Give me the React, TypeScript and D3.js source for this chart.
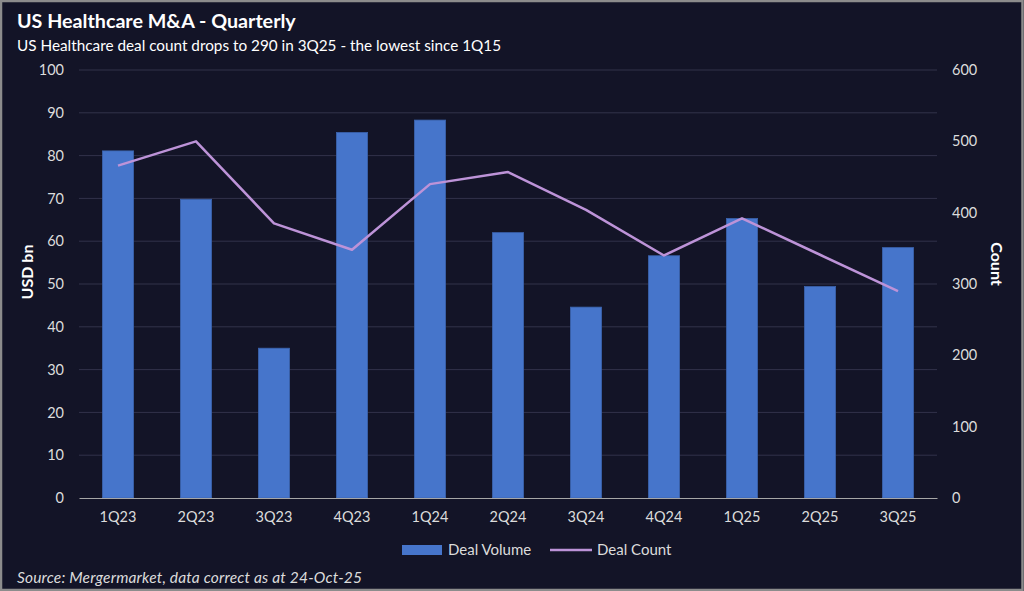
import React, { useEffect, useRef } from "react";
import * as d3 from "d3";

const quarters = ["1Q23", "2Q23", "3Q23", "4Q23", "1Q24", "2Q24", "3Q24", "4Q24", "1Q25", "2Q25", "3Q25"];
const dealVolume = [81.1, 69.8, 35.0, 85.4, 88.3, 62.0, 44.6, 56.6, 65.3, 49.4, 58.5];
const dealCount = [466, 500, 385, 348, 440, 457, 404, 340, 392, 341, 290];
const leftTicks = [0, 10, 20, 30, 40, 50, 60, 70, 80, 90, 100];
const rightTicks = [0, 100, 200, 300, 400, 500, 600];

const W = 1024;
const H = 591;
const margin = { top: 70, right: 87, bottom: 93, left: 79 };
const FONT = "Lato, 'Noto Sans', sans-serif";
const BG = "#131427";
const TEXT = "#dcdcdc";

export default function App() {
    const ref = useRef<SVGSVGElement>(null);

    useEffect(() => {
        document.body.style.margin = "0";
        const svg = d3.select(ref.current);
        svg.selectAll("*").remove();

        const width = W - margin.left - margin.right;
        const height = H - margin.top - margin.bottom;

        svg.append("rect").attr("width", W).attr("height", H).attr("fill", BG);
        svg.append("rect")
            .attr("x", 1).attr("y", 1).attr("width", W - 2.5).attr("height", H - 2)
            .attr("fill", "none").attr("stroke", "#8c8c8c").attr("stroke-width", 2.5);

        const x = d3.scaleBand<string>().domain(quarters).range([0, width]).paddingInner(0.6).paddingOuter(0.3);
        const yL = d3.scaleLinear().domain([0, 100]).range([height, 0]);
        const yR = d3.scaleLinear().domain([0, 600]).range([height, 0]);

        const g = svg.append("g").attr("transform", "translate(" + margin.left + "," + margin.top + ")");

        // gridlines
        g.append("g")
            .selectAll("line")
            .data(leftTicks.slice(1))
            .join("line")
            .attr("x1", 0).attr("x2", width)
            .attr("y1", (d) => yL(d)).attr("y2", (d) => yL(d))
            .attr("stroke", "#32324a").attr("stroke-width", 1);

        // left axis
        const leftAxis = g.append("g")
            .call(d3.axisLeft(yL).tickValues(leftTicks).tickSize(0).tickPadding(15));
        leftAxis.select(".domain").remove();
        leftAxis.selectAll("text")
            .attr("fill", TEXT).attr("font-family", FONT).attr("font-size", 14.5);

        // right axis
        const rightAxis = g.append("g")
            .attr("transform", "translate(" + width + ",0)")
            .call(d3.axisRight(yR).tickValues(rightTicks).tickSize(0).tickPadding(15));
        rightAxis.select(".domain").remove();
        rightAxis.selectAll("text")
            .attr("fill", TEXT).attr("font-family", FONT).attr("font-size", 14.5);

        // bars
        g.append("g")
            .selectAll("rect")
            .data(dealVolume)
            .join("rect")
            .attr("x", (d, i) => x(quarters[i]) as number)
            .attr("y", (d) => yL(d))
            .attr("width", x.bandwidth())
            .attr("height", (d) => height - yL(d))
            .attr("fill", "#4675cb")
            .attr("stroke", "#3b63ad")
            .attr("stroke-width", 0.8);

        // x axis
        const bottomAxis = g.append("g")
            .attr("transform", "translate(0," + height + ")")
            .call(d3.axisBottom(x).tickSize(0).tickPadding(14));
        bottomAxis.select(".domain").attr("stroke", "#a6a6a6").attr("stroke-width", 1.2);
        bottomAxis.selectAll("text")
            .attr("fill", TEXT).attr("font-family", FONT).attr("font-size", 14.5);

        // line
        const line = d3.line<number>()
            .x((d, i) => (x(quarters[i]) as number) + x.bandwidth() / 2)
            .y((d) => yR(d));
        g.append("path")
            .datum(dealCount)
            .attr("fill", "none")
            .attr("stroke", "#bd93d8")
            .attr("stroke-width", 2.5)
            .attr("stroke-linejoin", "round")
            .attr("d", line);

        // axis titles
        svg.append("text")
            .attr("transform", "translate(33,272) rotate(-90)")
            .attr("text-anchor", "middle")
            .attr("fill", "#ffffff").attr("font-family", FONT).attr("font-weight", "bold").attr("font-size", 16)
            .text("USD bn");
        svg.append("text")
            .attr("transform", "translate(991,264) rotate(90)")
            .attr("text-anchor", "middle")
            .attr("fill", "#ffffff").attr("font-family", FONT).attr("font-weight", "bold").attr("font-size", 16)
            .text("Count");

        // titles
        svg.append("text")
            .attr("x", 17).attr("y", 28)
            .attr("fill", "#ffffff").attr("font-family", FONT).attr("font-weight", "bold").attr("font-size", 19.7)
            .text("US Healthcare M&A - Quarterly");
        svg.append("text")
            .attr("x", 17).attr("y", 51)
            .attr("fill", "#ffffff").attr("font-family", FONT).attr("font-size", 15.3)
            .attr("textLength", 484).attr("lengthAdjust", "spacing")
            .text("US Healthcare deal count drops to 290 in 3Q25 - the lowest since 1Q15");

        // legend
        const legend = svg.append("g").attr("font-family", FONT).attr("font-size", 15).attr("fill", TEXT);
        legend.append("rect").attr("x", 402).attr("y", 545).attr("width", 40).attr("height", 10).attr("fill", "#4675cb");
        legend.append("text").attr("x", 448).attr("y", 555).text("Deal Volume");
        legend.append("line").attr("x1", 550).attr("x2", 592).attr("y1", 550).attr("y2", 550)
            .attr("stroke", "#bd93d8").attr("stroke-width", 2.5);
        legend.append("text").attr("x", 597).attr("y", 555).text("Deal Count");

        // source
        svg.append("text")
            .attr("x", 17).attr("y", 583)
            .attr("fill", TEXT).attr("font-family", FONT).attr("font-style", "italic").attr("font-size", 15.5)
            .attr("textLength", 345).attr("lengthAdjust", "spacing")
            .text("Source: Mergermarket, data correct as at 24-Oct-25");
    }, []);

    return <svg ref={ref} width={W} height={H} style={{ display: "block" }} />;
}
